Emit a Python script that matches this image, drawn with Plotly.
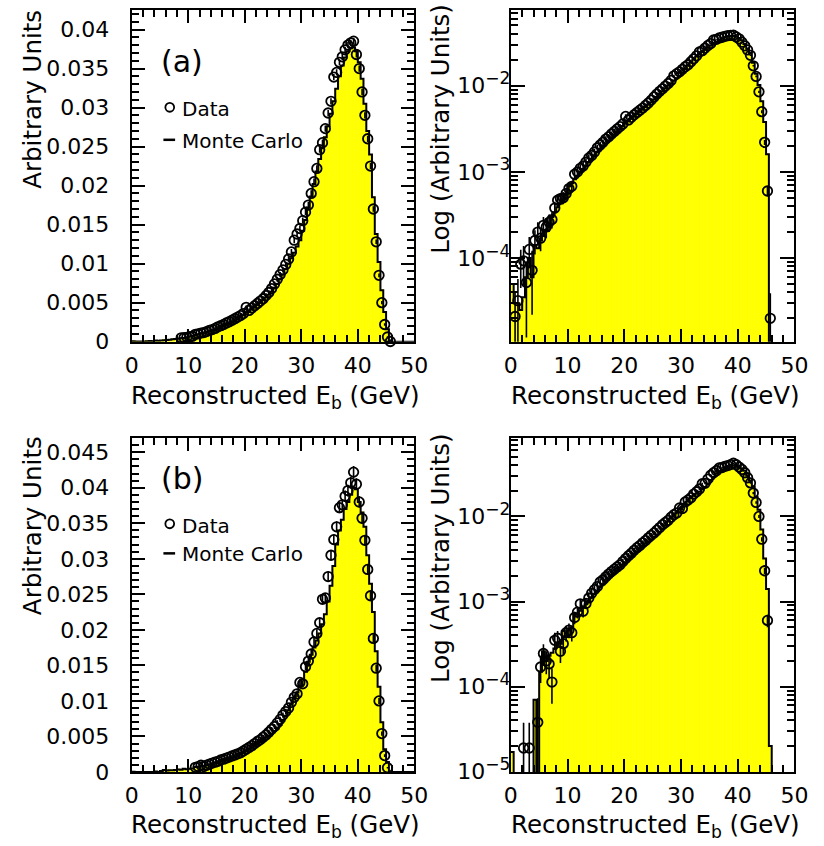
import plotly.graph_objects as go

W, H = 824, 846
FONT = "DejaVu Sans"

# ---------------- data (0.5 GeV bins from 0 to 50 GeV) ----------------
BIN_EDGES = [0.5 * i for i in range(101)]
BIN_CENTERS = [0.5 * i + 0.25 for i in range(100)]

# (a) Monte Carlo
MC_A = [5e-5, 3e-5, 3e-5, 2.5e-5, 3.5e-5, 6e-5, 1.0e-4, 6e-5, 1.4e-4, 1.3e-4,
        1.6e-4, 1.8e-4, 2.1e-4, 2.4e-4, 3.0e-4, 3.4e-4, 3.9e-4, 4.3e-4, 4.8e-4, 5.4e-4,
        6.8e-4, 7.4e-4, 8.2e-4, 9.0e-4, 1.0e-3, 1.08e-3, 1.18e-3, 1.3e-3, 1.42e-3, 1.56e-3,
        1.7e-3, 1.85e-3, 2.0e-3, 2.15e-3, 2.3e-3, 2.5e-3, 2.7e-3, 2.9e-3, 3.1e-3, 3.4e-3,
        3.7e-3, 3.9e-3, 4.15e-3, 4.4e-3, 4.7e-3, 5.0e-3, 5.3e-3, 5.65e-3, 6.0e-3, 6.4e-3,
        6.9e-3, 7.4e-3, 8.0e-3, 8.6e-3, 9.3e-3, 1.0e-2, 1.07e-2, 1.14e-2, 1.22e-2, 1.30e-2,
        1.42e-2, 1.56e-2, 1.72e-2, 1.86e-2, 2.02e-2, 2.18e-2, 2.34e-2, 2.48e-2, 2.62e-2, 2.76e-2,
        2.92e-2, 3.08e-2, 3.24e-2, 3.40e-2, 3.54e-2, 3.64e-2, 3.72e-2, 3.76e-2, 3.77e-2, 3.72e-2,
        3.58e-2, 3.37e-2, 3.05e-2, 2.70e-2, 2.40e-2, 1.85e-2, 1.38e-2, 1.02e-2, 6.6e-3, 3.8e-3,
        1.6e-3, 0, 0, 0, 0, 0, 0, 0, 0, 0]

# (a) Data
DATA_A = [0, 2.1e-5, 3.2e-5, 8.5e-5, 9.3e-5, 5.2e-5, 1.26e-4, 7.2e-5, 1.6e-4, 2.0e-4,
          1.7e-4, 2.4e-4, 2.3e-4, 2.6e-4, 2.8e-4, 3.8e-4, 4.7e-4, 4.9e-4, 5.0e-4, 5.6e-4,
          6.4e-4, 6.8e-4, 9.4e-4, 1.0e-3, 1.1e-3, 1.17e-3, 1.3e-3, 1.45e-3, 1.55e-3, 1.7e-3,
          1.9e-3, 2.05e-3, 2.2e-3, 2.4e-3, 2.55e-3, 2.75e-3, 2.95e-3, 3.15e-3, 3.35e-3, 3.6e-3,
          4.4e-3, 4.0e-3, 4.3e-3, 4.6e-3, 4.9e-3, 5.2e-3, 5.5e-3, 5.9e-3, 6.3e-3, 6.8e-3,
          7.4e-3, 8.0e-3, 8.6e-3, 9.2e-3, 9.9e-3, 1.06e-2, 1.15e-2, 1.30e-2, 1.38e-2, 1.45e-2,
          1.55e-2, 1.66e-2, 1.75e-2, 1.90e-2, 2.05e-2, 2.22e-2, 2.46e-2, 2.55e-2, 2.73e-2, 2.93e-2,
          3.08e-2, 3.39e-2, 3.45e-2, 3.58e-2, 3.65e-2, 3.74e-2, 3.80e-2, 3.83e-2, 3.85e-2, 3.68e-2,
          3.50e-2, 3.20e-2, 2.90e-2, 2.60e-2, 2.25e-2, 1.70e-2, 1.28e-2, 8.5e-3, 5.0e-3, 2.2e-3,
          6.0e-4, 2.0e-5, 0, 0, 0, 0, 0, 0, 0, 0]

ERR_A = [0, 2.0e-5, 2.5e-5, 4e-5, 4.5e-5, 4e-5, 5e-5, 5e-5, 5e-5, 6e-5,
         5e-5, 6e-5, 6e-5, 6e-5, 6e-5, 7e-5, 8e-5, 8e-5, 8e-5, 9e-5,
         1e-4, 1e-4, 1.2e-4, 1.2e-4, 1.3e-4, 1.3e-4, 1.4e-4, 1.5e-4, 1.5e-4, 1.6e-4,
         1.7e-4, 1.7e-4, 1.8e-4, 1.9e-4, 1.9e-4, 2.0e-4, 2.1e-4, 2.1e-4, 2.2e-4, 2.3e-4,
         2.5e-4, 2.4e-4, 2.5e-4, 2.5e-4, 2.6e-4, 2.7e-4, 2.8e-4, 2.9e-4, 3.0e-4, 3.0e-4,
         3.1e-4, 3.2e-4, 3.3e-4, 3.4e-4, 3.5e-4, 3.6e-4, 3.7e-4, 3.8e-4, 3.9e-4, 4.0e-4,
         4.0e-4, 4.0e-4, 4.0e-4, 4.0e-4, 4.0e-4, 4.0e-4, 4.0e-4, 4.0e-4, 4.0e-4, 4.0e-4,
         4.0e-4, 4.0e-4, 4.0e-4, 4.0e-4, 4.0e-4, 4.0e-4, 4.0e-4, 4.0e-4, 4.5e-4, 4.0e-4,
         4.0e-4, 4.0e-4, 4.0e-4, 4.0e-4, 4.0e-4, 3.5e-4, 3.0e-4, 2.5e-4, 2.0e-4, 1.5e-4,
         8e-5, 1.9e-5, 0, 0, 0, 0, 0, 0, 0, 0]

# (b) Monte Carlo
MC_B = [1.7e-5, 0, 0, 0, 0, 0, 0, 0, 7e-5, 0,
        1.5e-4, 2.6e-4, 2.0e-4, 2.3e-4, 2.5e-4, 2.8e-4, 3.3e-4, 3.2e-4, 4.5e-4, 3.9e-4,
        4.6e-4, 5.0e-4, 7.0e-4, 7.2e-4, 7.8e-4, 8.5e-4, 9.3e-4, 1.02e-3, 1.12e-3, 1.22e-3,
        1.34e-3, 1.46e-3, 1.58e-3, 1.72e-3, 1.86e-3, 2.0e-3, 2.15e-3, 2.3e-3, 2.5e-3, 2.7e-3,
        2.9e-3, 3.15e-3, 3.4e-3, 3.65e-3, 3.9e-3, 4.2e-3, 4.5e-3, 4.8e-3, 5.1e-3, 5.4e-3,
        5.75e-3, 6.1e-3, 6.6e-3, 7.2e-3, 7.9e-3, 8.7e-3, 9.6e-3, 1.04e-2, 1.12e-2, 1.21e-2,
        1.30e-2, 1.41e-2, 1.55e-2, 1.65e-2, 1.75e-2, 1.85e-2, 1.95e-2, 2.08e-2, 2.22e-2, 2.40e-2,
        2.62e-2, 2.90e-2, 3.20e-2, 3.40e-2, 3.55e-2, 3.70e-2, 3.80e-2, 3.90e-2, 4.00e-2, 3.98e-2,
        3.80e-2, 3.65e-2, 3.45e-2, 3.05e-2, 2.65e-2, 2.25e-2, 1.70e-2, 1.20e-2, 7.0e-3, 3.2e-3,
        1.4e-3, 2e-5, 0, 0, 0, 0, 0, 0, 0, 0]

# (b) Data
DATA_B = [0, 0, 0, 0, 1.9e-5, 0, 1.9e-5, 0, 0, 3.8e-5,
          1.7e-4, 2.45e-4, 2.0e-4, 1.85e-4, 1.13e-4, 3.5e-4, 3.7e-4, 2.6e-4, 3.2e-4, 4.3e-4,
          4.6e-4, 4.3e-4, 6.5e-4, 7.5e-4, 9.4e-4, 7.7e-4, 9.5e-4, 1.1e-3, 1.25e-3, 1.38e-3,
          1.5e-3, 1.7e-3, 1.8e-3, 1.95e-3, 2.1e-3, 2.25e-3, 2.4e-3, 2.55e-3, 2.7e-3, 2.95e-3,
          3.2e-3, 3.45e-3, 3.7e-3, 4.0e-3, 4.3e-3, 4.55e-3, 4.9e-3, 5.2e-3, 5.6e-3, 6.0e-3,
          6.4e-3, 6.9e-3, 7.4e-3, 8.0e-3, 8.5e-3, 9.0e-3, 9.8e-3, 1.05e-2, 1.10e-2, 1.26e-2,
          1.24e-2, 1.48e-2, 1.56e-2, 1.66e-2, 1.83e-2, 1.95e-2, 2.10e-2, 2.43e-2, 2.45e-2, 2.75e-2,
          3.05e-2, 3.27e-2, 3.45e-2, 3.72e-2, 3.76e-2, 3.88e-2, 3.96e-2, 4.07e-2, 4.22e-2, 4.05e-2,
          3.80e-2, 3.57e-2, 3.26e-2, 2.85e-2, 2.48e-2, 1.88e-2, 1.46e-2, 1.00e-2, 5.4e-3, 2.3e-3,
          6.0e-4, 0, 0, 0, 0, 0, 0, 0, 0, 0]

ERR_B = [0, 0, 0, 0, 1.85e-5, 0, 1.85e-5, 0, 0, 3.5e-5,
         6e-5, 7e-5, 6e-5, 6e-5, 5e-5, 8e-5, 8e-5, 7e-5, 8e-5, 9e-5,
         9e-5, 9e-5, 1.1e-4, 1.2e-4, 1.3e-4, 1.2e-4, 1.3e-4, 1.4e-4, 1.5e-4, 1.6e-4,
         1.7e-4, 1.8e-4, 1.9e-4, 2.0e-4, 2.0e-4, 2.1e-4, 2.2e-4, 2.3e-4, 2.3e-4, 2.4e-4,
         2.5e-4, 2.6e-4, 2.7e-4, 2.8e-4, 2.9e-4, 3.0e-4, 3.1e-4, 3.2e-4, 3.3e-4, 3.4e-4,
         3.5e-4, 3.6e-4, 3.7e-4, 3.8e-4, 4.0e-4, 4.1e-4, 4.3e-4, 4.4e-4, 4.5e-4, 4.8e-4,
         4.8e-4, 5.2e-4, 5.4e-4, 5.6e-4, 5.8e-4, 6.0e-4, 6.2e-4, 6.6e-4, 6.6e-4, 7.0e-4,
         7.2e-4, 7.5e-4, 7.7e-4, 8.0e-4, 8.0e-4, 8.1e-4, 8.2e-4, 8.3e-4, 8.5e-4, 8.3e-4,
         8.0e-4, 7.8e-4, 7.4e-4, 7.0e-4, 6.5e-4, 5.7e-4, 5.0e-4, 4.2e-4, 3.1e-4, 2.0e-4,
         1.0e-4, 0, 0, 0, 0, 0, 0, 0, 0, 0]

# first energy at which data markers are drawn in the linear panels
LIN_MIN_A = 8.5
LIN_MIN_B = 11.0

LIN_TICKS_A = [0, 0.005, 0.01, 0.015, 0.02, 0.025, 0.03, 0.035, 0.04]
LIN_LABELS_A = ["0", "0.005", "0.01", "0.015", "0.02", "0.025", "0.03", "0.035", "0.04"]
LIN_TICKS_B = LIN_TICKS_A + [0.045]
LIN_LABELS_B = LIN_LABELS_A + ["0.045"]
LOG_TICKS_A = [1e-4, 1e-3, 1e-2]
LOG_EXP_A = ["−4", "−3", "−2"]
LOG_TICKS_B = [1e-5, 1e-4, 1e-3, 1e-2]
LOG_EXP_B = ["−5", "−4", "−3", "−2"]
X_TICKS = [0, 10, 20, 30, 40, 50]


def pow_label(e):
    return "10<sup><span style='font-size:17px'>" + e + "</span></sup>"


LOG_LABELS_A = [pow_label(e) for e in LOG_EXP_A]
LOG_LABELS_B = [pow_label(e) for e in LOG_EXP_B]


# ---------------- figure ----------------
def px(x):
    return x / W


def py(y):
    return 1 - y / H


fig = go.Figure()

YELLOW = "#ffff00"

panels = [
    ("x", "y", MC_A, DATA_A, ERR_A, False, LIN_MIN_A),
    ("x2", "y2", MC_A, DATA_A, ERR_A, True, None),
    ("x3", "y3", MC_B, DATA_B, ERR_B, False, LIN_MIN_B),
    ("x4", "y4", MC_B, DATA_B, ERR_B, True, None),
]

for xa, ya, mc, data, err, is_log, lin_min in panels:
    fig.add_trace(go.Bar(
        x=BIN_CENTERS, y=[v if v > 0 else None for v in mc], width=0.5,
        marker=dict(color=YELLOW, line=dict(color=YELLOW, width=0.6)),
        xaxis=xa, yaxis=ya, showlegend=False, hoverinfo="skip"))
    if is_log:
        ys = [v if v > 0 else 1e-12 for v in mc]
    else:
        ys = list(mc)
    ys = ys + [ys[-1]]
    fig.add_trace(go.Scatter(
        x=BIN_EDGES, y=ys, mode="lines", line=dict(color="black", width=2, shape="hv"),
        xaxis=xa, yaxis=ya, showlegend=False, hoverinfo="skip"))
    dx, dy, de = [], [], []
    for c, v, e in zip(BIN_CENTERS, data, err):
        if v <= 0:
            continue
        if lin_min is not None and c < lin_min:
            continue
        dx.append(c)
        dy.append(v)
        de.append(e)
    fig.add_trace(go.Scatter(
        x=dx, y=dy, mode="markers",
        marker=dict(symbol="circle-open", size=9.5, color="black", line=dict(width=1.8)),
        error_y=dict(type="data", array=de, visible=True, color="black", thickness=1.6, width=0),
        xaxis=xa, yaxis=ya, showlegend=False, hoverinfo="skip", cliponaxis=False))

common = dict(showline=True, linecolor="black", linewidth=2, mirror="allticks",
              ticks="inside", tickcolor="black", tickwidth=1.5, showgrid=False,
              zeroline=False, tickfont=dict(family=FONT, size=22, color="black"))

XL = [px(128), px(418)]
XR = [px(517), px(808)]
YT = [py(347), py(10)]
YB = [py(784), py(445)]


def xaxis(dom, anchor):
    return dict(common, domain=dom, anchor=anchor, range=[0, 50],
                tickmode="array", tickvals=X_TICKS, ticktext=[str(t) for t in X_TICKS],
                ticklen=13, ticklabelstandoff=3,
                minor=dict(dtick=2, tick0=0, ticklen=7, ticks="inside",
                           tickcolor="black", tickwidth=1.5, showgrid=False))


def ylin(dom, anchor, top, tv, tt):
    return dict(common, domain=dom, anchor=anchor, range=[0, top],
                tickmode="array", tickvals=tv, ticktext=tt, ticklen=13,
                ticklabelstandoff=16,
                minor=dict(dtick=0.001, tick0=0, ticklen=7, ticks="inside",
                           tickcolor="black", tickwidth=1.5, showgrid=False))


def ylog(dom, anchor, rng, tv, tt):
    return dict(common, domain=dom, anchor=anchor, type="log", range=rng,
                tickmode="array", tickvals=tv, ticktext=tt, ticklen=14,
                ticklabelstandoff=-6,
                minor=dict(dtick="D1", ticklen=7, ticks="inside",
                           tickcolor="black", tickwidth=1.5, showgrid=False))


fig.update_layout(
    width=W, height=H, autosize=False,
    margin=dict(l=0, r=0, t=0, b=0),
    paper_bgcolor="white", plot_bgcolor="white",
    bargap=0, barmode="overlay",
    xaxis=xaxis(XL, "y"), yaxis=ylin(YT, "x", 0.04252, LIN_TICKS_A, LIN_LABELS_A),
    xaxis2=xaxis(XR, "y2"), yaxis2=ylog(YT, "x2", [-4.97, -1.12], LOG_TICKS_A, LOG_LABELS_A),
    xaxis3=xaxis(XL, "y3"), yaxis3=ylin(YB, "x3", 0.04698, LIN_TICKS_B, LIN_LABELS_B),
    xaxis4=xaxis(XR, "y4"), yaxis4=ylog(YB, "x4", [-5.003, -1.08], LOG_TICKS_B, LOG_LABELS_B),
)

ann = []
TF = dict(family=FONT, size=24.5, color="black")
xtitle = "Reconstructed E<sub>b</sub> (GeV)"
for xr, yc in [(426, 403), (816, 403), (426, 839), (816, 839)]:
    ann.append(dict(text=xtitle, x=px(xr), y=py(yc), xref="paper", yref="paper",
                    xanchor="right", yanchor="middle", showarrow=False, font=TF))
for xc, yc, t in [(26, 101, "Arbitrary Units"), (26, 534, "Arbitrary Units"),
                  (445, 131, "Log (Arbitrary Units)"), (445, 567, "Log (Arbitrary Units)")]:
    ann.append(dict(text=t, x=px(xc), y=py(yc), xref="paper", yref="paper",
                    xanchor="center", yanchor="middle", showarrow=False, font=TF,
                    textangle=-90))
for lab, ylab, ydata, ymc in [("(a)", 62, 111, 143), ("(b)", 486, 534, 563)]:
    ann.append(dict(text=lab, x=px(180), y=py(ylab), xref="paper", yref="paper",
                    xanchor="center", yanchor="middle", showarrow=False,
                    font=dict(family=FONT, size=30, color="black")))
    ann.append(dict(text="Data", x=px(178), y=py(ydata), xref="paper", yref="paper",
                    xanchor="left", yanchor="middle", showarrow=False,
                    font=dict(family=FONT, size=20, color="black")))
    ann.append(dict(text="Monte Carlo", x=px(178), y=py(ymc), xref="paper", yref="paper",
                    xanchor="left", yanchor="middle", showarrow=False,
                    font=dict(family=FONT, size=20, color="black")))
fig.update_layout(annotations=ann)

shapes = []
for ydata, ymc in [(109, 142), (532, 562)]:
    shapes.append(dict(type="circle", xref="paper", yref="paper",
                       x0=px(162.5), x1=px(171.5), y0=py(ydata + 4.5), y1=py(ydata - 4.5),
                       line=dict(color="black", width=1.8)))
    shapes.append(dict(type="line", xref="paper", yref="paper",
                       x0=px(160.5), x1=px(172.5), y0=py(ymc), y1=py(ymc),
                       line=dict(color="black", width=2.5)))
fig.update_layout(shapes=shapes)

fig.write_html("out.html", config={"displayModeBar": False},
               post_script="document.body.style.margin='0';document.body.style.overflow='hidden';")
